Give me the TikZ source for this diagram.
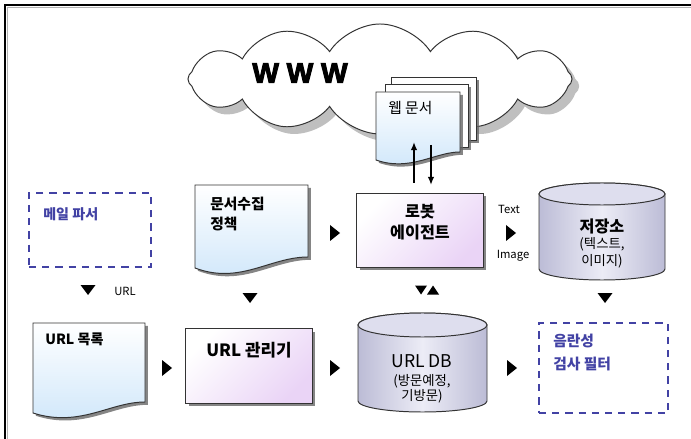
\documentclass[tikz,border=0pt]{standalone}
\usepackage{fontspec}
\setmainfont{Noto Sans CJK KR}
\newfontfamily\wwwfont{Liberation Sans}[FakeBold=3.5]
\usetikzlibrary{shapes.symbols,shadows,arrows.meta}

\definecolor{docblue}{RGB}{206,230,250}
\definecolor{lavender}{RGB}{234,212,246}
\definecolor{cylside}{RGB}{188,188,214}
\definecolor{cylmid}{RGB}{236,236,246}
\definecolor{cyltop}{RGB}{222,222,238}
\definecolor{dashblue}{RGB}{66,66,164}

\tikzset{
  page/.style={draw=black!80, line width=0.7pt,
    drop shadow={shadow xshift=0.07cm, shadow yshift=-0.07cm, fill=black!60, opacity=0.8}},
  docpage/.style={page, top color=white, bottom color=docblue},
  module/.style={page, rectangle, minimum width=3.15cm, minimum height=1.85cm,
    top color=white, bottom color=lavender, shading angle=45},
  planned/.style={rectangle, draw=dashblue, line width=1.8pt,
    dash pattern=on 0.18cm off 0.15cm},
  cylbody/.style={draw=black!80, line width=0.7pt,
    left color=cylside, right color=cylside, middle color=cylmid},
  cyllid/.style={draw=black!80, line width=0.7pt, fill=cyltop},
  lbl/.style={inner sep=0pt, font=\bfseries\fontsize{10.5}{14}\selectfont},
  note/.style={inner sep=0pt, font=\fontsize{9.5}{11}\selectfont},
  tag/.style={inner sep=0pt, font=\fontsize{8}{9}\selectfont},
  fetch/.style={line width=1.1pt, -{Latex[length=2mm,width=1.6mm]}}
}

\begin{document}
\begin{tikzpicture}[x=0.025cm, y=0.025cm]
  \useasboundingbox (0,0) rectangle (691,-439);

  % frame
  \draw[gray!60, line width=1pt] (7.5,-439) -- (7.5,-7.5) -- (691,-7.5);
  \draw[line width=1pt] (5,-439) -- (5,-5) -- (691,-5);

  % the web
  \node[cloud, cloud puffs=12, cloud puff arc=115, cloud ignores aspect,
        minimum width=9.6cm, minimum height=2.75cm, draw=black!80, line width=0.7pt, fill=white,
        drop shadow={shadow xshift=0.18cm, shadow yshift=-0.18cm, fill=black!50}] (web) at (380,-79) {};
  \node[inner sep=0pt, font=\wwwfont\bfseries\fontsize{20}{20}\selectfont] (www) at (300,-73) {W W W};

  % stack of fetched pages
  \draw[page, fill=white] (391,-77) rectangle (476,-140);
  \draw[page, fill=white] (385,-84) rectangle (468,-147);
  \draw[docpage] (376,-92) -- (460,-92) -- (460,-152)
    .. controls (435,-152) and (410,-172) .. (376,-160) -- cycle;
  \node[note, font=\fontsize{10.5}{12}\selectfont, anchor=west] (webdoc) at (388,-108) {웹 문서};
  \coordinate (pagefoot) at (420,-144);

  % top row
  \node[planned, minimum width=3.05cm, minimum height=1.85cm] (mail) at (90,-230) {};
  \node[lbl, dashblue, font=\bfseries\fontsize{10}{12}\selectfont, anchor=west] (maillbl) at (43,-214) {메일 파서};

  \draw[docpage] (195,-185) -- (308,-185) -- (308,-257)
    .. controls (270,-257) and (240,-285) .. (195,-268) -- cycle;
  \node[lbl, align=left, anchor=west] (policy) at (210,-214) {문서수집\\정책};

  \node[module] (robot) at (420,-230.5) {};
  \node[lbl, align=center, font=\bfseries\fontsize{11.5}{15}\selectfont] (robotlbl) at (420,-222.5) {로봇\\에이전트};

  \draw[cylbody] (539,-194) -- (539,-269) arc[start angle=180, end angle=360, x radius=63, y radius=11]
    -- (665,-194) arc[start angle=0, end angle=180, x radius=63, y radius=11] -- cycle;
  \draw[cyllid] (602,-194) ellipse[x radius=63, y radius=11];
  \node[lbl, font=\bfseries\fontsize{11.5}{14}\selectfont] (store) at (602,-226) {저장소};
  \node[note, align=center, font=\fontsize{9.5}{12}\selectfont] (storenote) at (602,-252.5) {(텍스트,\\이미지)};

  \node[tag] (txt) at (509,-209) {Text};
  \node[tag] (img) at (513,-256) {Image};
  \node[tag] (urltag) at (125,-291) {URL};

  % page fetch
  \draw[fetch] ([xshift=-0.15cm, yshift=0.25cm]robot.north) -- ([xshift=-0.15cm, yshift=0.05cm]pagefoot);
  \draw[fetch] ([xshift=0.275cm, yshift=-0.025cm]pagefoot) -- ([xshift=0.275cm, yshift=0.2cm]robot.north);

  % bottom row
  \draw[docpage] (33,-323) -- (145,-323) -- (145,-402)
    .. controls (110,-402) and (80,-428) .. (33,-413) -- cycle;
  \node[lbl, font=\bfseries\fontsize{10}{12}\selectfont, anchor=west] (urllist) at (45,-339) {URL 목록};

  \node[module, minimum height=1.85cm] (manager) at (249,-366) {};
  \node[lbl, font=\bfseries\fontsize{12}{14}\selectfont] (managerlbl) at (249,-350) {URL 관리기};

  \draw[cylbody] (358,-325) -- (358,-401) arc[start angle=180, end angle=360, x radius=64.5, y radius=11]
    -- (487,-325) arc[start angle=0, end angle=180, x radius=64.5, y radius=12] -- cycle;
  \draw[cyllid] (422.5,-325) ellipse[x radius=64.5, y radius=12];
  \node[note, font=\fontsize{12.5}{14}\selectfont] (urldb) at (422,-361) {URL DB};
  \node[note, align=center, font=\fontsize{9.5}{10.8}\selectfont] (urldbnote) at (422,-388.5) {(방문예정,\\기방문)};

  \node[planned, minimum width=3.225cm, minimum height=2.25cm] (filter) at (603.5,-368) {};
  \node[lbl, dashblue, align=left, font=\bfseries\fontsize{10.5}{16.3}\selectfont, anchor=west] (filterlbl) at (553,-352.5) {음란성\\검사 필터};

  % flow markers
  \foreach \x/\y in {88/290, 250/298, 605/298} {
    \fill (\x,-\y) ++(-7.5,5) -- ++(15,0) -- ++(-7.5,-10) -- cycle;
  }
  \foreach \x/\y in {335/233, 511/233, 167/368, 335/368, 512/368} {
    \fill (\x,-\y) ++(-5,8) -- ++(0,-16) -- ++(10,8) -- cycle;
  }
  \fill (421,-290) ++(-6,4.5) -- ++(12,0) -- ++(-6,-9) -- cycle;
  \fill (433,-290) ++(-6,-4.5) -- ++(12,0) -- ++(-6,9) -- cycle;
\end{tikzpicture}
\end{document}
